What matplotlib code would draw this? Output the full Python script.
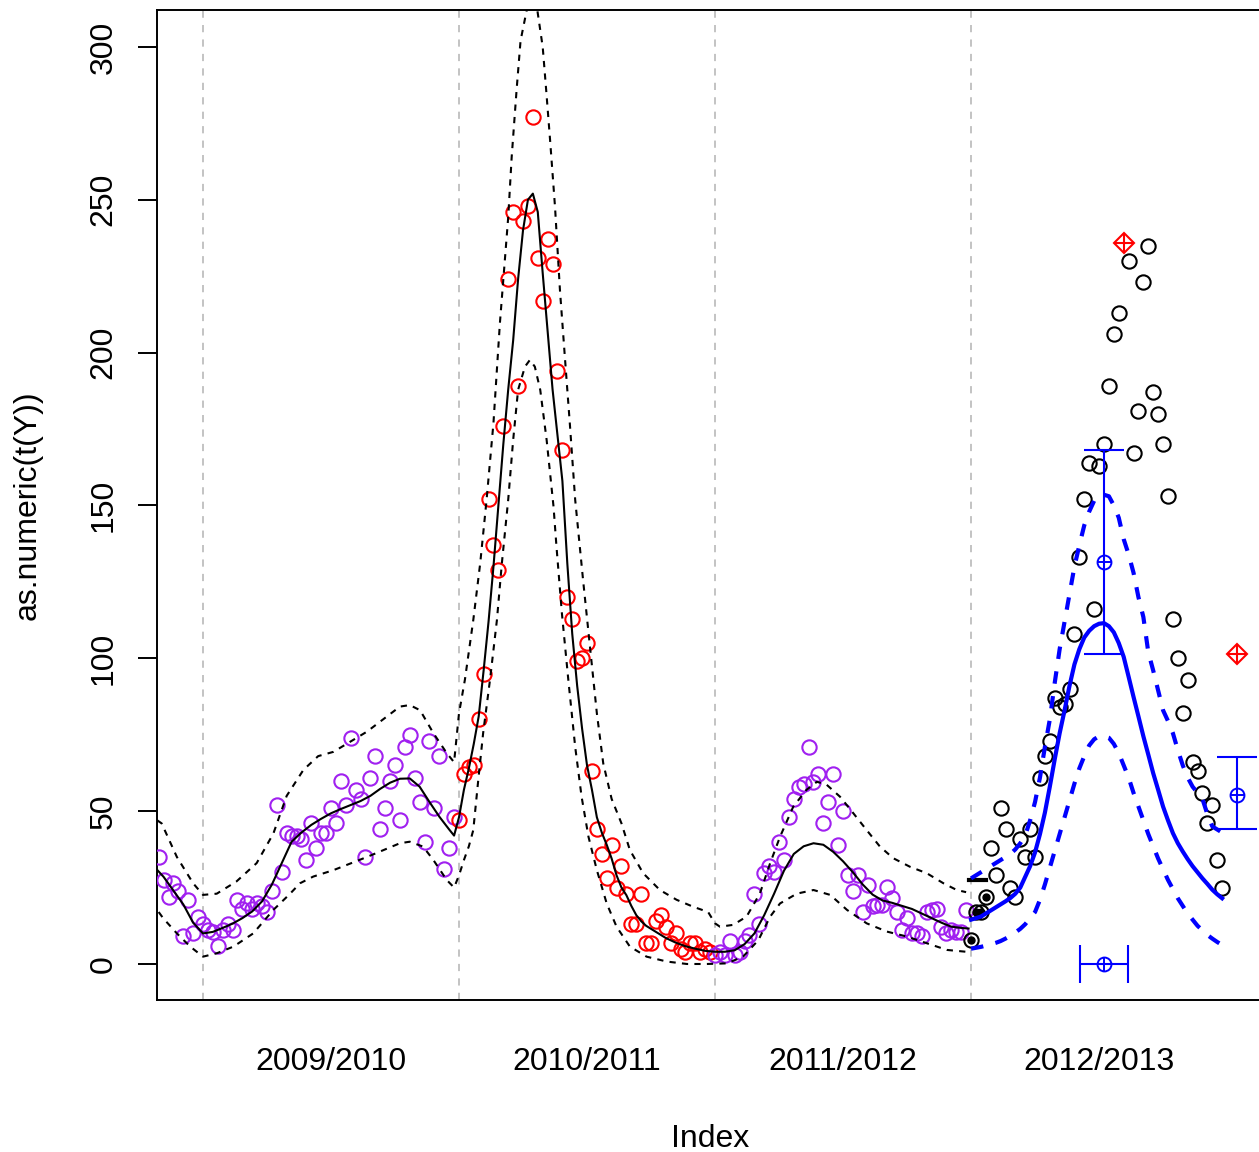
import numpy as np
import matplotlib.pyplot as plt

plt.rcParams['font.family'] = ['Liberation Sans', 'DejaVu Sans']

# weekly index: 0, 52, 104, 156 are the season boundaries
season_breaks = [0, 52, 104, 156]
season_ticks = [26, 78, 130, 182]
season_labels = ['2009/2010', '2010/2011', '2011/2012', '2012/2013']

# observed counts, season 2009/2010 (purple), weeks -9..51
obs_0910 = [35, 27.5, 22, 26.5, 24, 9, 21, 10, 15.5, 13, 11, 10.5, 6, 11, 13,
            11, 21, 18, 20, 18, 20, 19, 17, 24, 52, 30, 43, 42, 42, 41, 34, 46,
            38, 43, 43, 51, 46, 60, 52, 74, 57, 54, 35, 61, 68, 44, 51, 60, 65,
            47, 71, 75, 61, 53, 40, 73, 51, 68, 31, 38, 48]
# season 2010/2011 (red), weeks 52..103
obs_1011 = [47, 62, 64.5, 65, 80, 95, 152, 137, 129, 176, 224, 246, 189, 243,
            248, 277, 231, 217, 237, 229, 194, 168, 120, 113, 99, 100, 105, 63,
            44, 36, 28, 39, 25, 32, 23, 13, 13, 23, 7, 7, 14, 16, 12, 7, 10, 5,
            4, 7, 7, 4, 5, 4]
# season 2011/2012 (purple), weeks 104..155
obs_1112 = [3, 4, 3, 7.4, 3, 4, 7.4, 9.5, 23, 13, 29.7, 32, 30, 40, 34, 48, 54,
            58, 59, 71, 59.6, 62, 46, 53, 62, 39, 50, 29, 24, 29, 17, 26, 19,
            19.3, 19.3, 25.3, 21.5, 17, 11, 14.9, 10, 10, 9, 17, 17.6, 18, 12,
            10, 11, 10.5, 10.5, 17.6]
# season 2012/2013 (black), weeks 156..207 (week 187 shown as red diamond)
obs_1213 = [8, 17, 17, 22, 38, 29, 51, 44, 25, 22, 41, 35, 44, 35, 61, 68, 73,
            87, 84, 85, 90, 108, 133, 152, 164, 116, 163, 170, 189, 206, 213,
            np.nan, 230, 167, 181, 223, 235, 187, 180, 170, 153, 113, 100, 82,
            93, 66, 63, 56, 46, 52, 34, 25]
n_last_obs = 4  # first weeks of 2012/2013 marked with a dot

# fitted curve (solid) and band (dashed), seasons 1-3: (week, value)
fit_curve = [(-10, 32), (-8, 28.5), (-6, 24), (-4, 19.5), (-2, 13.5), (0, 10),
             (2, 10.5), (4, 11.8), (6, 13.2), (8, 15), (10, 17.2), (12, 20.5),
             (14, 26), (16, 33), (18, 40), (20, 43), (22, 45.5), (24, 47.5),
             (26, 49.3), (28, 50.7), (30, 52), (32, 53.3), (34, 55), (36, 57.3),
             (38, 59.3), (40, 60.6), (42, 60.7), (44, 58), (46, 53), (48, 48.2),
             (50, 44), (51, 42), (52, 48), (53, 57), (54, 64), (55, 72),
             (56, 81), (57, 96), (58, 112), (59, 130), (60, 150), (61, 170),
             (62, 188), (63, 204), (64, 224), (65, 240), (66, 250), (67, 252),
             (68, 246), (69, 226), (70, 207), (71, 188), (72, 173), (73, 158),
             (74, 131), (75, 108), (76, 91), (77, 77), (78, 65), (79, 57),
             (80, 48), (81, 43), (82, 39), (83, 34.5), (84, 29), (85, 25),
             (86, 22.5), (87, 19), (88, 16), (89, 14), (90, 12.5), (92, 10.5),
             (94, 8.5), (96, 7), (98, 5.8), (100, 5), (102, 4.3), (104, 4),
             (106, 4), (108, 4.5), (110, 6.5), (112, 10), (114, 16), (116, 23),
             (118, 30.5), (120, 36), (122, 38.5), (124, 39.5), (126, 39),
             (128, 36.7), (130, 33.6), (132, 30), (134, 26), (136, 22.7),
             (138, 20.8), (140, 20), (142, 19), (144, 18), (146, 16.5),
             (148, 15), (150, 13.5), (152, 12.2), (154, 11.8), (155.5, 11.6)]
fit_upper = [(-9.3, 47), (-8.4, 46), (-5.3, 35), (-2, 26.4), (0, 22.6),
             (2.8, 23), (6.8, 27), (10.9, 33), (14.3, 42.7), (17, 55),
             (20.4, 63.5), (23.4, 68), (26.5, 69.4), (33.3, 76), (40, 84.2),
             (42, 84.7), (44.1, 83), (46.8, 75.5), (49.5, 69), (51, 66),
             (52, 82), (53.2, 93), (54.9, 112.5), (56.3, 131), (57.6, 151.8),
             (59, 177), (60.3, 209.5), (62, 244.4), (62.7, 264), (63.7, 286),
             (64.5, 302), (67, 322), (69, 300), (69.7, 286), (70.5, 269.5),
             (71.5, 247.7), (72.5, 220.5), (73.5, 198.6), (74.5, 177),
             (75.6, 151.8), (76.2, 142), (77.2, 125.6), (78.6, 103.8), (80, 82),
             (81.3, 65.6), (83, 54), (85, 46), (86.7, 37.3), (89.4, 29.7),
             (92.8, 24.2), (96.2, 21), (99.6, 18.7), (102.6, 17), (104, 13.3),
             (105, 12.2), (107.7, 12.8), (110.4, 15.5), (113.1, 23), (115.2, 33),
             (117.2, 41.6), (119.9, 51.5), (122.6, 57), (124.7, 59.6),
             (126.7, 58.6), (129.4, 54.7), (132.1, 49.3), (134.8, 43.8),
             (137.5, 38.4), (140.2, 34.6), (143.6, 31.8), (147, 29.7),
             (150.4, 26.4), (153.1, 24.2), (155, 23.5)]
fit_lower = [(-9, 17), (-8.1, 15), (-5.3, 10), (-2.6, 5.7), (0, 2.4), (2.8, 3.5),
             (6.2, 5.7), (10.2, 10), (14.3, 17.7), (17.7, 23), (19.7, 26.4),
             (22.4, 28.6), (26.5, 30.7), (33.3, 35), (40, 39.5), (42, 40),
             (44.7, 38.4), (46.8, 34), (49.5, 27.5), (51, 25), (52, 29),
             (53, 34), (54, 38.5), (54.9, 43.8), (55.9, 60), (56.9, 75.5),
             (58.3, 93), (59.7, 112.5), (60.7, 131), (62, 152), (63, 171.4),
             (64, 187.8), (65.4, 195.4), (66.4, 197.6), (67.4, 195.4),
             (68.5, 187.8), (69.8, 171.4), (71.2, 149.6), (71.8, 136.5),
             (72.9, 114.7), (74.2, 93), (75.6, 71), (76.9, 54.7), (78.3, 41.6),
             (80, 30.7), (82, 19.8), (84, 12.2), (86.7, 5.7), (90.1, 2.4),
             (94.2, 0.8), (98.3, 0), (102.3, 0), (106.4, 0.2), (109.7, 2.4),
             (112.8, 7.8), (115.2, 15.5), (117.2, 19.8), (120.6, 23), (124, 24.2),
             (127.4, 22.6), (130.8, 17.7), (134.8, 13.3), (138.9, 10.6),
             (142.9, 9), (147, 6.8), (151.1, 4.6), (155, 4)]
last_band_stub = [(155.5, 27.5), (159, 27.5)]

# forecast for 2012/2013, weeks 156..207
fc_mean = [14.5, 15, 15.5, 16.5, 17.5, 18.5, 19.5, 20.5, 21.6, 23, 25, 28.5,
           32, 36.5, 42.5, 49.5, 58, 67, 75.5, 83, 91, 98, 103, 106.8, 109,
           110.5, 111.3, 111.5, 110.5, 108.5, 105, 100.5, 94, 87.4, 81, 74.5,
           68.5, 62.4, 57, 51.5, 47, 42.8, 39.5, 36.8, 34.3, 32, 30, 28,
           26.2, 24.3, 22.8, 21.5]
fc_upper = [28, 29, 30, 31, 32, 33, 34, 35, 36, 37.5, 39.5, 42, 47, 53, 61, 71,
            80, 92, 103, 112, 121, 130, 137, 143.5, 148, 151.5, 153, 153.5, 153,
            150, 146, 139, 134, 128, 120, 113.5, 102, 96, 89.5, 83, 79.5, 75.5,
            70, 65, 61, 58, 56, 54, 49, 45, 44, 43]
fc_lower = [5, 5.3, 5.6, 6, 6.4, 6.9, 7.5, 8.3, 9.2, 10.3, 11.5, 13, 15, 17, 21,
            26, 31.5, 37, 42.5, 48, 53.5, 59, 64, 68, 71.5, 73.5, 74.5, 74.5, 74,
            72, 69, 65, 61, 56, 51.5, 47, 42.5, 38.5, 34.5, 31, 27.5, 24.5,
            21.5, 19, 16.5, 14.5, 12.5, 11, 9.5, 8.3, 7.2, 6.2]

# peak summaries: observed peak (red) and predicted peak (blue)
obs_peak_week = [187, 210]
obs_peak_val = [236, 101.5]
pred_peak_week = [183, 210]
pred_peak_val = [131.5, 55.3]
pred_peak_lo = [101.4, 44]
pred_peak_hi = [168, 67.6]
pred_time_week = 183
pred_time_lo = 178.1
pred_time_hi = 187.9

purple = '#A020F0'
wk0 = np.arange(-9, 52)
wk1 = np.arange(52, 104)
wk2 = np.arange(104, 156)
wk3 = np.arange(156, 208)

fig = plt.figure(figsize=(12.59, 11.52), dpi=100)
ax = fig.add_axes([157 / 1259, 152 / 1152, 1106 / 1259, 990 / 1152])

for b in season_breaks:
    ax.axvline(b, color='#BEBEBE', lw=1.3, ls=(0, (4, 4)), zorder=1)

circ = dict(ls='none', marker='o', ms=10.3, mfc='none', mew=1.5, zorder=3)
ax.plot(wk0, obs_0910, mec=purple, **circ)
ax.plot(wk1, obs_1011, mec='red', **circ)
ax.plot(wk2, obs_1112, mec=purple, **circ)
ax.plot(wk3, obs_1213, mec='black', **circ)
ax.plot(wk3[:n_last_obs], obs_1213[:n_last_obs], ls='none', marker='o', ms=5,
        color='black', zorder=4)

fx, fy = zip(*fit_curve)
ax.plot(fx, fy, color='black', lw=1.5, zorder=4)
for band in (fit_upper, fit_lower):
    bx, by = zip(*band)
    ax.plot(bx, by, color='black', lw=1.5, ls=(0, (3, 3)), zorder=4)
sx, sy = zip(*last_band_stub)
ax.plot(sx, sy, color='black', lw=3, zorder=4)

ax.plot(wk3, fc_mean, color='blue', lw=3, zorder=5)
ax.plot(wk3, fc_upper, color='blue', lw=3, ls=(0, (3, 3)), zorder=5)
ax.plot(wk3, fc_lower, color='blue', lw=3, ls=(0, (3, 3)), zorder=5)

yerr = [np.array(pred_peak_val) - np.array(pred_peak_lo),
        np.array(pred_peak_hi) - np.array(pred_peak_val)]
ax.errorbar(pred_peak_week, pred_peak_val, yerr=yerr, fmt='none', ecolor='blue',
            elinewidth=1.5, capsize=14.4, capthick=1.5, zorder=6)
ax.errorbar([pred_time_week], [0],
            xerr=[[pred_time_week - pred_time_lo], [pred_time_hi - pred_time_week]],
            fmt='none', ecolor='blue', elinewidth=1.5, capsize=13.7, capthick=1.5,
            zorder=6)
for m in ('o', '+'):
    ax.plot(pred_peak_week + [pred_time_week], pred_peak_val + [0], ls='none',
            marker=m, ms=10, mfc='none', mec='blue', mew=1.4, zorder=7)
ax.plot(obs_peak_week, obs_peak_val, ls='none', marker='D', ms=10.5, mfc='none',
        mec='red', mew=1.5, zorder=7)
ax.plot(obs_peak_week, obs_peak_val, ls='none', marker='+', ms=14.5, mec='red',
        mew=1.5, zorder=7)

ax.set_xlim(-9.34, 215.3)
ax.set_ylim(-11.78, 312.07)
for s in ax.spines.values():
    s.set_linewidth(1.4)
ax.spines['right'].set_visible(False)

ax.set_yticks(range(0, 301, 50))
ax.set_yticklabels([str(v) for v in range(0, 301, 50)], rotation=90, va='center',
                   fontsize=23)
ax.tick_params(axis='y', length=13.7, width=1.4, pad=14)
ax.set_xticks(season_ticks)
ax.set_xticklabels(season_labels, fontsize=23)
ax.tick_params(axis='x', length=0, pad=33.5)

ax.set_xlabel('Index', fontsize=23, labelpad=34)
ax.set_ylabel('as.numeric(t(Y))', fontsize=23, labelpad=33)

fig.savefig('out.png', dpi=100)
